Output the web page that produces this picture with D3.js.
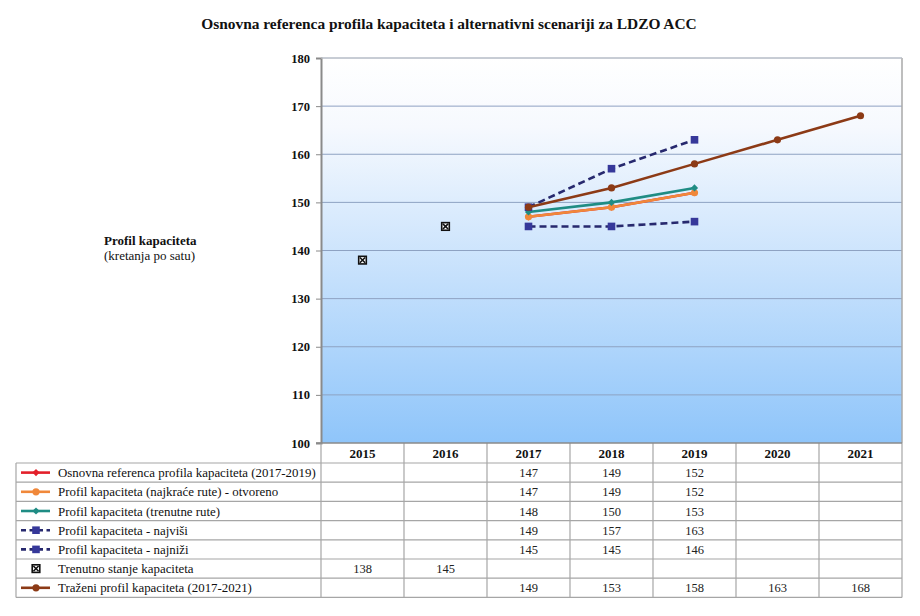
<!DOCTYPE html>
<html>
<head>
<meta charset="utf-8">
<script src="https://cdn.jsdelivr.net/npm/d3@7"></script>
<style>
  body { margin: 0; background: #fff; }
</style>
</head>
<body>
<svg id="chart" width="920" height="616" font-family="'Liberation Serif', Tinos, 'Times New Roman', 'DejaVu Serif', serif"></svg>
<script>
// podaci
const years = ["2015", "2016", "2017", "2018", "2019", "2020", "2021"];
const yTicks = [100, 110, 120, 130, 140, 150, 160, 170, 180];

const osnovna   = [null, null, 147, 149, 152, null, null];
const najkrace  = [null, null, 147, 149, 152, null, null];
const trenutne  = [null, null, 148, 150, 153, null, null];
const najvisi   = [null, null, 149, 157, 163, null, null];
const najnizi   = [null, null, 145, 145, 146, null, null];
const trenutno  = [138, 145, null, null, null, null, null];
const trazeni   = [null, null, 149, 153, 158, 163, 168];

const seriesNames = [
  "Osnovna referenca profila kapaciteta (2017-2019)",
  "Profil kapaciteta (najkraće rute) - otvoreno",
  "Profil kapaciteta (trenutne rute)",
  "Profil kapaciteta - najviši",
  "Profil kapaciteta - najniži",
  "Trenutno stanje kapaciteta",
  "Traženi profil kapaciteta (2017-2021)"
];
const seriesValues = [osnovna, najkrace, trenutne, najvisi, najnizi, trenutno, trazeni];

// stil svake serije
const styles = [
  {color: "#e3202a", marker: "diamond", line: true,  dash: null},
  {color: "#f0883a", marker: "circle",  line: true,  dash: null},
  {color: "#1f8c84", marker: "diamond", line: true,  dash: null},
  {color: "#27296e", marker: "square",  line: true,  dash: "7,4", mcolor: "#36389a"},
  {color: "#27296e", marker: "square",  line: true,  dash: "7,4", mcolor: "#36389a"},
  {color: "#111",    marker: "xbox",    line: false, dash: null},
  {color: "#8c3a16", marker: "circle",  line: true,  dash: null}
];

const FONT = "'Liberation Serif', Tinos, 'Times New Roman', 'DejaVu Serif', serif";
const svg = d3.select("#chart");
const pLeft = 321, pRight = 902, pTop = 58, pBottom = 443;
const tableLeft = 16, rowH = 19.2, headerH = 20;

const x = d3.scaleBand().domain(years).range([pLeft, pRight]);
const y = d3.scaleLinear().domain([100, 180]).range([pBottom, pTop]);

// pozadina s gradijentom
const defs = svg.append("defs");
const grad = defs.append("linearGradient").attr("id", "bg")
  .attr("x1", 0).attr("y1", 0).attr("x2", 0).attr("y2", 1);
grad.append("stop").attr("offset", "0%").attr("stop-color", "#ffffff");
grad.append("stop").attr("offset", "18%").attr("stop-color", "#f6f9fe");
grad.append("stop").attr("offset", "100%").attr("stop-color", "#8fc5fa");

svg.append("rect").attr("x", pLeft).attr("y", pTop)
  .attr("width", pRight - pLeft).attr("height", pBottom - pTop)
  .attr("fill", "url(#bg)");

// mreža
svg.append("g").selectAll("line").data(yTicks.slice(1)).join("line")
  .attr("x1", pLeft).attr("x2", pRight)
  .attr("y1", d => y(d)).attr("y2", d => y(d))
  .attr("stroke", "#8ea2c2").attr("stroke-width", 1);

// y os
const yAxis = svg.append("g").attr("transform", `translate(${pLeft},0)`)
  .call(d3.axisLeft(y).tickValues(yTicks).tickSize(5).tickPadding(6));
yAxis.attr("font-family", FONT);
yAxis.select(".domain").attr("stroke", "#8a8a8a").attr("stroke-width", 2);
yAxis.selectAll(".tick line").attr("stroke", "#8a8a8a");
yAxis.selectAll(".tick text").attr("font-size", 12.5).attr("font-weight", "bold")
  .attr("fill", "#111");

// desni rub
svg.append("line").attr("x1", pRight).attr("x2", pRight).attr("y1", pTop).attr("y2", pBottom)
  .attr("stroke", "#a8a8a8").attr("stroke-width", 1.5);
svg.append("line").attr("x1", pLeft).attr("x2", pRight).attr("y1", pTop).attr("y2", pTop)
  .attr("stroke", "#c8c8c8").attr("stroke-width", 1);

// naslov
svg.append("text").attr("x", 449).attr("y", 29).attr("text-anchor", "middle")
  .attr("font-size", 15.4).attr("font-weight", "bold").attr("fill", "#111")
  .text("Osnovna referenca profila kapaciteta i alternativni scenariji za LDZO ACC");

// naziv osi
svg.append("text").attr("x", 104).attr("y", 245).attr("font-size", 13)
  .attr("font-weight", "bold").attr("fill", "#111").text("Profil kapaciteta");
svg.append("text").attr("x", 104).attr("y", 260).attr("font-size", 13)
  .attr("fill", "#111").text("(kretanja po satu)");

// markeri
function drawMarker(g, type, cx, cy, st) {
  const mc = st.mcolor || st.color;
  if (type === "circle") {
    g.append("circle").attr("cx", cx).attr("cy", cy).attr("r", 3.6).attr("fill", mc);
  } else if (type === "diamond") {
    const r = 3.6;
    g.append("path").attr("d", `M${cx},${cy - r}L${cx + r},${cy}L${cx},${cy + r}L${cx - r},${cy}Z`).attr("fill", mc);
  } else if (type === "square") {
    g.append("rect").attr("x", cx - 3.8).attr("y", cy - 3.8).attr("width", 7.6).attr("height", 7.6).attr("fill", mc);
  } else if (type === "xbox") {
    g.append("rect").attr("x", cx - 3.8).attr("y", cy - 3.8).attr("width", 7.6).attr("height", 7.6)
      .attr("fill", "#fff").attr("stroke", "#111").attr("stroke-width", 1.6);
    g.append("path").attr("d", `M${cx - 2.6},${cy - 2.6}L${cx + 2.6},${cy + 2.6}M${cx + 2.6},${cy - 2.6}L${cx - 2.6},${cy + 2.6}`)
      .attr("stroke", "#111").attr("stroke-width", 1.6);
  }
}

// linije
const line = d3.line()
  .defined(d => d.v !== null)
  .x(d => x(d.year) + x.bandwidth() / 2)
  .y(d => y(d.v));

const plot = svg.append("g");
seriesValues.forEach((vals, i) => {
  const st = styles[i];
  const pts = vals.map((v, j) => ({year: years[j], v}));
  if (st.line) {
    plot.append("path").datum(pts).attr("d", line)
      .attr("fill", "none").attr("stroke", st.color).attr("stroke-width", 2.6)
      .attr("stroke-dasharray", st.dash);
  }
  pts.filter(d => d.v !== null).forEach(d => {
    drawMarker(plot, st.marker, x(d.year) + x.bandwidth() / 2, y(d.v), st);
  });
});

// tablica podataka
const table = svg.append("g");
const tBottom = pBottom + headerH + rowH * seriesNames.length;
const gridColor = "#a6a6a6";

// zaglavlje s godinama
table.selectAll("text.year").data(years).join("text")
  .attr("x", d => x(d) + x.bandwidth() / 2).attr("y", pBottom + 15)
  .attr("text-anchor", "middle").attr("font-size", 13).attr("font-weight", "bold")
  .attr("fill", "#111").text(d => d);

// vertikalne linije
const vx = years.map(d => x(d)).concat([pRight]);
table.selectAll("line.v").data(vx).join("line")
  .attr("x1", d => d).attr("x2", d => d)
  .attr("y1", pBottom).attr("y2", tBottom)
  .attr("stroke", gridColor).attr("stroke-width", 1.2);
table.append("line").attr("x1", tableLeft).attr("x2", tableLeft)
  .attr("y1", pBottom + headerH).attr("y2", tBottom)
  .attr("stroke", gridColor).attr("stroke-width", 1.2);

// horizontalne linije
const hy = d3.range(seriesNames.length + 1).map(i => pBottom + headerH + i * rowH);
table.selectAll("line.h").data(hy).join("line")
  .attr("x1", tableLeft).attr("x2", pRight)
  .attr("y1", d => d).attr("y2", d => d)
  .attr("stroke", gridColor).attr("stroke-width", 1.2);

// os x
svg.append("line").attr("x1", pLeft - 5).attr("x2", pRight).attr("y1", pBottom).attr("y2", pBottom)
  .attr("stroke", "#8a8a8a").attr("stroke-width", 1.5);

// redovi legende i vrijednosti
seriesNames.forEach((name, i) => {
  const st = styles[i];
  const rowTop = pBottom + headerH + i * rowH;
  const cy = rowTop + rowH / 2;
  const g = table.append("g");
  if (st.line) {
    g.append("line").attr("x1", 21).attr("x2", 50).attr("y1", cy).attr("y2", cy)
      .attr("stroke", st.color).attr("stroke-width", 2.6).attr("stroke-dasharray", st.dash ? "5,3.5" : null);
  }
  drawMarker(g, st.marker, 36, cy, st);
  g.append("text").attr("x", 58).attr("y", cy + 4.5).attr("font-size", 12.9)
    .attr("fill", "#111").text(name);
  seriesValues[i].forEach((v, j) => {
    if (v === null) return;
    g.append("text").attr("x", x(years[j]) + x.bandwidth() / 2).attr("y", cy + 4.5)
      .attr("text-anchor", "middle").attr("font-size", 12.5).attr("fill", "#222").text(v);
  });
});
</script>
</body>
</html>
